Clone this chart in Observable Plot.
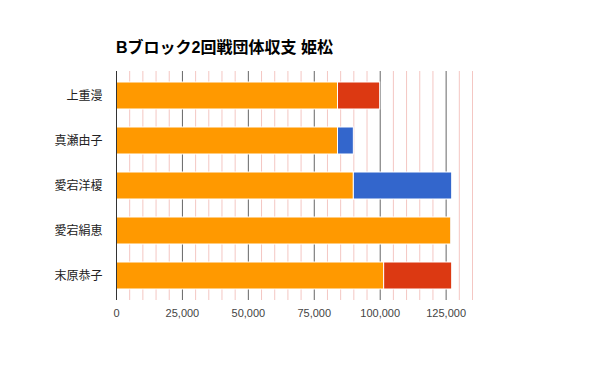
<!DOCTYPE html>
<html>
<head>
<meta charset="utf-8">
<script src="https://cdn.jsdelivr.net/npm/d3@7"></script>
<script src="https://cdn.jsdelivr.net/npm/@observablehq/plot@0.6"></script>
<style>
  html, body { margin: 0; padding: 0; background: #fff; }
  #wrap { position: relative; width: 600px; height: 371px; font-family: "Liberation Sans", Arial, "Noto Sans CJK JP", sans-serif; }
  #title { position: absolute; left: 116px; top: 34px; font-size: 16px; font-weight: bold; color: #000; white-space: nowrap; }
  #chart { position: absolute; left: 0; top: 0; }
</style>
</head>
<body>
<div id="wrap">
  <div id="chart"></div>
  <div id="title">Bブロック2回戦団体収支 姫松</div>
</div>
<script>
const players = ["上重漫", "真瀬由子", "愛宕洋榎", "愛宕絹恵", "末原恭子"];
const seriesNames = ["base", "minus", "plus"];
const baseValues  = [84000, 84000, 90000, 127000, 101500];
const minusValues = [16000, 0, 0, 0, 25800];
const plusValues  = [0, 6000, 37300, 300, 0];
const seriesColors = ["#ff9900", "#dc3912", "#3366cc"];
const xTicks = [0, 25000, 50000, 75000, 100000, 125000];
const xMax = 135000;

const rows = [];
players.forEach((p, i) => {
  rows.push({name: p, series: "base", value: baseValues[i]});
  rows.push({name: p, series: "minus", value: minusValues[i]});
  rows.push({name: p, series: "plus", value: plusValues[i]});
});
const data = rows.filter(d => d.value > 0);

const minor = d3.range(0, xMax + 1, 5000).filter(v => v % 25000 !== 0);
const major = xTicks.filter(v => v > 0);

const chart = Plot.plot({
  width: 600,
  height: 371,
  marginLeft: 116,
  marginRight: 128,
  marginTop: 71,
  marginBottom: 71,
  style: {fontFamily: '"Liberation Sans", Arial, "Noto Sans CJK JP", sans-serif', background: "white"},
  x: {domain: [0, xMax]},
  y: {domain: players, paddingInner: 0.39, paddingOuter: 0.21},
  color: {domain: seriesNames, range: seriesColors},
  marks: [
    Plot.ruleX(minor, {stroke: "#f4c7c3", strokeWidth: 1}),
    Plot.ruleX(major, {stroke: "#666", strokeWidth: 1}),
    Plot.barX(data, Plot.stackX({
      x: "value", y: "name", fill: "series",
      order: seriesNames,
      stroke: "white", strokeWidth: 1
    })),
    Plot.ruleX([0], {stroke: "#333", strokeWidth: 1}),
    Plot.axisX({ticks: xTicks, tickFormat: d3.format(","), tickSize: 0, tickPadding: 9, fontSize: 11, fill: "#444", label: null}),
    Plot.axisY({tickSize: 0, tickPadding: 14, fontSize: 12, fill: "#222", label: null})
  ]
});
document.getElementById("chart").appendChild(chart);
</script>
</body>
</html>
